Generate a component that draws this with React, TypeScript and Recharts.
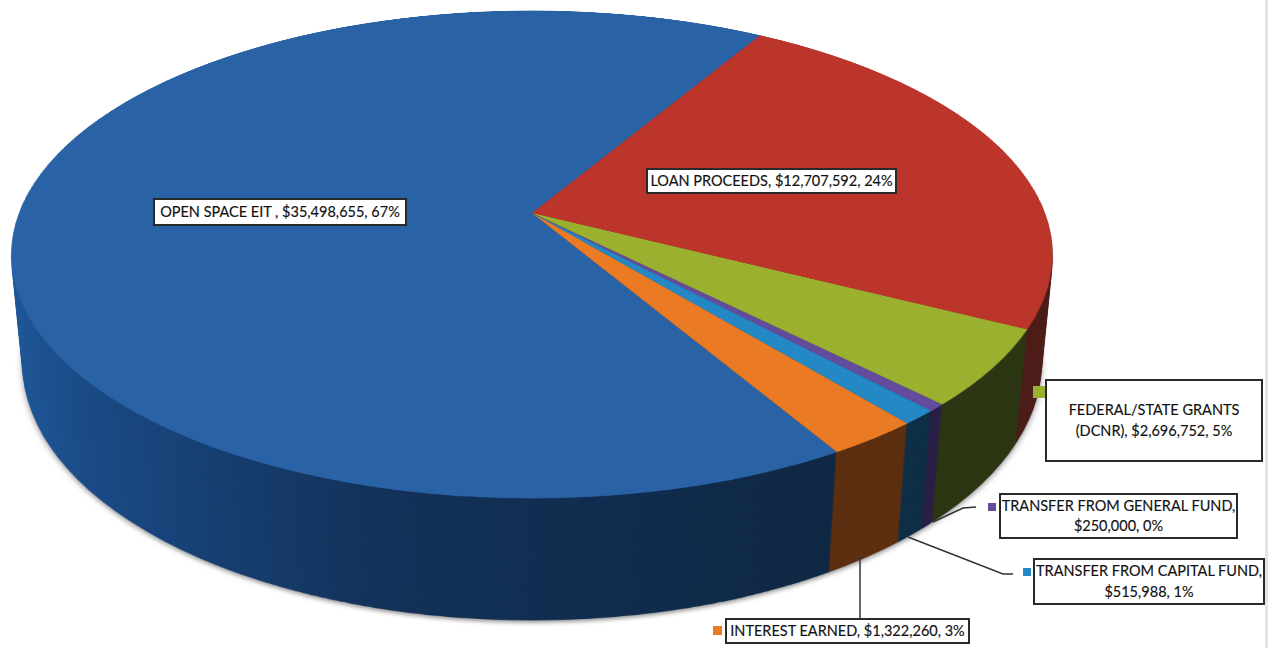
import React from "react";
import { PieChart, Pie, Cell } from "recharts";

const categories = [
    "OPEN SPACE EIT",
    "LOAN PROCEEDS",
    "FEDERAL/STATE GRANTS (DCNR)",
    "TRANSFER FROM GENERAL FUND",
    "TRANSFER FROM CAPITAL FUND",
    "INTEREST EARNED",
];
const amounts = [35498655, 12707592, 2696752, 250000, 515988, 1322260];
const topColors = ["#2A62A6", "#BC352B", "#9BB02F", "#644C9C", "#2488C4", "#EA7A24"];
const rimColors = ["url(#blueRim)", "#4C1C18", "#2B3512", "#291E45", "#0E2E46", "#5C2E10"];

const labelLines = [
    ["OPEN SPACE EIT , $35,498,655, 67%"],
    ["LOAN PROCEEDS, $12,707,592, 24%"],
    ["FEDERAL/STATE GRANTS", "(DCNR), $2,696,752, 5%"],
    ["TRANSFER FROM GENERAL FUND,", "$250,000, 0%"],
    ["TRANSFER FROM CAPITAL FUND,", "$515,988, 1%"],
    ["INTEREST EARNED, $1,322,260, 3%"],
];

const data = categories.map((name, i) => ({ name, value: amounts[i] }));

// tilted disc: the circle is rotated back under a perspective, the rim is a stack of copies
const CHART_SIZE = 1060;
const RADIUS = 513;
const CENTER_X = 531.5;
const CENTER_Y = 213;
const PERSPECTIVE = 2677;
const TILT = 62.5;
const DEPTH = 124;
const STEP = 1.5;
const START_ANGLE = 300.5;

const boxes = [
    { left: 153, top: 198, width: 254, height: 28 },
    { left: 646, top: 168, width: 251, height: 26 },
    { left: 1045, top: 379, width: 218, height: 83 },
    { left: 999, top: 493, width: 239, height: 46 },
    { left: 1033, top: 558, width: 232, height: 47 },
    { left: 725, top: 618, width: 245, height: 26 },
];
const keys = [
    { index: 2, left: 1033, top: 386, size: 12 },
    { index: 3, left: 988, top: 503, size: 8 },
    { index: 4, left: 1023, top: 568, size: 8 },
    { index: 5, left: 713, top: 626, size: 9 },
];
const leaders = [
    "860,557 860,618",
    "933,522 963,508 976,507",
    "908,537 1003,574 1013,574",
];

const layerStyle = (z: number): React.CSSProperties => ({
    position: "absolute",
    left: CENTER_X - CHART_SIZE / 2,
    top: CENTER_Y - CHART_SIZE / 2,
    width: CHART_SIZE,
    height: CHART_SIZE,
    transform: `perspective(${PERSPECTIVE}px) rotateX(${TILT}deg) translateZ(${-z}px)`,
});

const Layer: React.FC<{ z: number; colors: string[]; blur?: boolean }> = ({ z, colors, blur }) => (
    <div style={{ ...layerStyle(z), filter: blur ? "blur(3px)" : undefined }}>
        <PieChart width={CHART_SIZE} height={CHART_SIZE} margin={{ top: 0, right: 0, bottom: 0, left: 0 }}>
            <Pie
                data={data}
                dataKey="value"
                cx="50%"
                cy="50%"
                innerRadius={0}
                outerRadius={RADIUS}
                startAngle={START_ANGLE}
                endAngle={START_ANGLE - 360}
                stroke="none"
                isAnimationActive={false}
                label={false}
                labelLine={false}
            >
                {data.map((entry, index) => (
                    <Cell key={entry.name} fill={colors[index]} stroke="none" />
                ))}
            </Pie>
        </PieChart>
    </div>
);

const depths: number[] = [];
for (let z = DEPTH; z > 0; z -= STEP) depths.push(z);

export default function App() {
    return (
        <div
            style={{
                position: "absolute",
                left: 0,
                top: 0,
                width: 1269,
                height: 648,
                overflow: "hidden",
                background: "#fff",
                fontFamily: "Lato, sans-serif",
                color: "#111",
            }}
        >
            {/* rim shading runs from lit left side to dark front */}
            <svg width={0} height={0} style={{ position: "absolute" }}>
                <defs>
                    <linearGradient id="blueRim" gradientUnits="userSpaceOnUse" x1={0} y1={0} x2={CHART_SIZE} y2={0}>
                        <stop offset="0%" stopColor="#1F5A9E" />
                        <stop offset="12%" stopColor="#194A86" />
                        <stop offset="38%" stopColor="#123159" />
                        <stop offset="75%" stopColor="#0E2742" />
                    </linearGradient>
                </defs>
            </svg>

            <Layer z={DEPTH + 2} colors={topColors.map(() => "#8a8a8a")} blur />
            {depths.map((z) => (
                <Layer key={z} z={z} colors={rimColors} />
            ))}
            <Layer z={0} colors={topColors} />

            <svg width={1269} height={648} style={{ position: "absolute", left: 0, top: 0 }}>
                {leaders.map((points) => (
                    <polyline key={points} points={points} fill="none" stroke="#333" strokeWidth={1.5} />
                ))}
            </svg>

            {keys.map((key) => (
                <div
                    key={key.index}
                    style={{
                        position: "absolute",
                        left: key.left,
                        top: key.top,
                        width: key.size,
                        height: key.size,
                        background: topColors[key.index],
                    }}
                />
            ))}

            {boxes.map((box, i) => (
                <div
                    key={categories[i]}
                    style={{
                        position: "absolute",
                        boxSizing: "border-box",
                        ...box,
                        display: "flex",
                        flexDirection: "column",
                        alignItems: "center",
                        justifyContent: "center",
                        background: "#fff",
                        border: "2px solid #2a2a2a",
                        fontSize: 14.5,
                        lineHeight: "20.5px",
                        whiteSpace: "nowrap",
                        WebkitTextStroke: "0.15px #111",
                    }}
                >
                    {labelLines[i].map((line) => (
                        <span key={line}>{line}</span>
                    ))}
                </div>
            ))}

            {/* page edge */}
            <div style={{ position: "absolute", left: 1265, top: 0, width: 3, height: 648, background: "#e4e4e4" }} />
        </div>
    );
}
